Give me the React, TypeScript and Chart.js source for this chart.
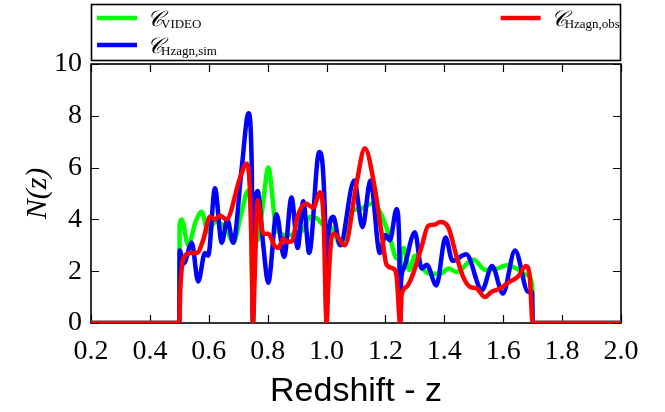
import React, { useEffect, useRef } from 'react';
import { Chart, registerables } from 'chart.js';

Chart.register(...registerables);

const xTicks = [0.2, 0.4, 0.6, 0.8, 1.0, 1.2, 1.4, 1.6, 1.8, 2.0];
const yTicks = [0, 2, 4, 6, 8, 10];

const legendSubs = ['VIDEO', 'Hzagn,sim', 'Hzagn,obs'];
const seriesColors = ['#00ff00', '#0000ff', '#ff0000'];

// C_VIDEO  [z, N(z)]
const videoPts: [number, number][] = [
  [0.2, 0], [0.5, 0], [0.501, 3.8], [0.508, 4.0], [0.53, 3.0], [0.555, 3.9], [0.576, 4.3],
  [0.598, 3.5], [0.62, 3.9], [0.645, 3.8], [0.665, 3.5], [0.683, 3.1], [0.71, 4.2],
  [0.733, 5.1], [0.744, 4.2], [0.75, 0], [0.755, 3.0], [0.766, 3.2], [0.784, 4.6],
  [0.802, 6.0], [0.83, 3.6], [0.86, 3.4], [0.898, 3.45], [0.921, 3.6], [0.944, 4.1],
  [0.966, 4.05], [0.989, 3.8], [0.997, 3.7], [1.0, 0], [1.003, 3.6], [1.012, 3.7],
  [1.05, 3.0], [1.079, 4.3], [1.113, 4.4], [1.153, 4.6], [1.181, 4.3], [1.215, 3.3],
  [1.238, 2.5], [1.248, 2.4], [1.25, 0], [1.252, 2.6], [1.263, 2.9], [1.281, 2.05],
  [1.3, 2.6], [1.323, 2.15], [1.35, 1.9], [1.385, 1.9], [1.415, 2.1], [1.442, 1.97],
  [1.498, 2.45], [1.54, 2.05], [1.58, 2.1], [1.611, 2.23], [1.646, 2.1], [1.68, 1.85],
  [1.698, 1.5], [1.7, 0], [2.0, 0],
];

// C_Hzagn,sim
const simPts: [number, number][] = [
  [0.2, 0], [0.5, 0], [0.501, 2.8], [0.515, 2.3], [0.542, 3.1], [0.564, 1.6], [0.587, 2.7],
  [0.598, 2.6], [0.621, 5.2], [0.644, 3.1], [0.663, 4.0], [0.683, 3.1], [0.712, 6.0],
  [0.735, 8.1], [0.746, 6.0], [0.75, 0], [0.754, 3.6], [0.766, 5.1], [0.785, 3.0],
  [0.802, 1.55], [0.83, 4.2], [0.856, 2.55], [0.881, 4.85], [0.902, 2.9], [0.921, 4.7],
  [0.941, 2.7], [0.975, 6.6], [0.995, 4.0], [1.0, 0], [1.005, 3.2], [1.023, 4.1],
  [1.046, 3.0], [1.094, 5.5], [1.122, 3.7], [1.149, 5.5], [1.181, 2.7], [1.2, 3.4],
  [1.215, 3.2], [1.238, 4.4], [1.247, 3.0], [1.25, 0], [1.253, 1.6], [1.262, 2.1],
  [1.3, 3.5], [1.323, 2.1], [1.34, 2.25], [1.373, 1.45], [1.404, 3.3], [1.428, 2.4],
  [1.474, 2.65], [1.528, 1.27], [1.562, 2.2], [1.599, 1.14], [1.64, 2.8], [1.685, 1.2],
  [1.698, 1.2], [1.7, 0], [2.0, 0],
];

// C_Hzagn,obs
const obsPts: [number, number][] = [
  [0.2, 0], [0.5, 0], [0.503, 1.2], [0.51, 2.3], [0.52, 2.6], [0.536, 2.7], [0.559, 2.7],
  [0.581, 3.2], [0.604, 4.1], [0.62, 4.0], [0.638, 4.15], [0.66, 4.0], [0.706, 5.6],
  [0.728, 6.15], [0.738, 5.5], [0.745, 3.0], [0.75, 0], [0.757, 2.2], [0.766, 4.75],
  [0.785, 3.45], [0.802, 3.45], [0.825, 2.95], [0.837, 2.9], [0.853, 3.26], [0.867, 3.13],
  [0.881, 3.15], [0.904, 4.2], [0.93, 4.6], [0.955, 4.45], [0.978, 5.05], [0.99, 4.0],
  [1.0, 0], [1.006, 1.5], [1.017, 3.3], [1.026, 3.45], [1.062, 3.0], [1.102, 5.4],
  [1.13, 6.75], [1.164, 5.2], [1.187, 3.45], [1.204, 2.25], [1.227, 2.1], [1.238, 1.8],
  [1.25, 0], [1.255, 1.1], [1.272, 1.4], [1.294, 1.9], [1.323, 2.95], [1.345, 3.75],
  [1.368, 3.8], [1.385, 3.9], [1.413, 3.7], [1.442, 2.55], [1.464, 1.78], [1.487, 1.4],
  [1.51, 1.33], [1.538, 1.0], [1.56, 1.2], [1.589, 1.33], [1.623, 1.6], [1.651, 1.8],
  [1.677, 2.2], [1.69, 1.8], [1.7, 0], [2.0, 0],
];

const tickFont = { family: '"Liberation Serif", serif', size: 28 };

const framePlugin = {
  id: 'frameTicks',
  beforeDatasetsDraw(chart: any) {
    const { ctx, chartArea: a, scales } = chart;
    ctx.save();
    ctx.strokeStyle = '#000';
    ctx.lineWidth = 1.2;
    ctx.beginPath();
    scales.x.ticks.forEach((t: any) => {
      const px = Math.round(scales.x.getPixelForValue(t.value)) + 0.5;
      ctx.moveTo(px, a.bottom);
      ctx.lineTo(px, a.bottom - 8);
      ctx.moveTo(px, a.top);
      ctx.lineTo(px, a.top + 8);
    });
    scales.y.ticks.forEach((t: any) => {
      const py = Math.round(scales.y.getPixelForValue(t.value)) + 0.5;
      ctx.moveTo(a.left, py);
      ctx.lineTo(a.left + 8, py);
      ctx.moveTo(a.right, py);
      ctx.lineTo(a.right - 8, py);
    });
    ctx.stroke();
    ctx.lineWidth = 1.6;
    ctx.strokeRect(a.left, a.top, a.right - a.left, a.bottom - a.top);
    ctx.restore();
  },
};

const legendPlugin = {
  id: 'mathLegend',
  afterDraw(chart: any) {
    const { ctx, chartArea: a } = chart;
    const top = 4;
    const bottom = a.top - 4;
    ctx.save();
    ctx.fillStyle = '#fff';
    ctx.fillRect(a.left, top, a.right - a.left, bottom - top);
    ctx.strokeStyle = '#000';
    ctx.lineWidth = 1.6;
    ctx.strokeRect(a.left + 0.5, top + 0.5, a.right - a.left - 1, bottom - top);
    const col2 = a.left + (a.right - a.left) * 0.773;
    const slots = [
      { x: a.left + 6, y: 18 },
      { x: a.left + 6, y: 45 },
      { x: col2, y: 18 },
    ];
    chart.data.datasets.forEach((ds: any, i: number) => {
      const s = slots[i];
      ctx.strokeStyle = ds.borderColor;
      ctx.lineWidth = 4.5;
      ctx.beginPath();
      ctx.moveTo(s.x, s.y);
      ctx.lineTo(s.x + 40, s.y);
      ctx.stroke();
      ctx.fillStyle = '#000';
      ctx.textBaseline = 'alphabetic';
      ctx.font = 'italic 22px "DejaVu Serif", serif';
      ctx.fillText('\u{1D49E}', s.x + 50, s.y + 8);
      const w = ctx.measureText('\u{1D49E}').width;
      ctx.font = '13px "Liberation Serif", serif';
      ctx.fillText(legendSubs[i], s.x + 50 + w - 2, s.y + 10);
    });
    ctx.restore();
  },
};

export default function App() {
  const ref = useRef<HTMLCanvasElement>(null);
  useEffect(() => {
    document.body.style.margin = '0';
    const canvas = ref.current;
    if (!canvas) return;
    const toXY = (pts: [number, number][]) => pts.map(([x, y]) => ({ x, y }));
    const chart = new Chart(canvas, {
      type: 'line',
      data: {
        datasets: [
          { label: 'C_VIDEO', data: toXY(videoPts), borderColor: seriesColors[0], order: 3 },
          { label: 'C_Hzagn,sim', data: toXY(simPts), borderColor: seriesColors[1], order: 2 },
          { label: 'C_Hzagn,obs', data: toXY(obsPts), borderColor: seriesColors[2], order: 1 },
        ].map((d) => ({
          ...d,
          borderWidth: 4.5,
          pointRadius: 0,
          fill: false,
          cubicInterpolationMode: 'monotone' as const,
        })),
      },
      options: {
        animation: false,
        responsive: false,
        devicePixelRatio: 1,
        layout: { padding: { top: 64, right: 44, left: 0, bottom: 0 } },
        plugins: { legend: { display: false }, tooltip: { enabled: false } },
        scales: {
          x: {
            type: 'linear',
            min: 0.2,
            max: 2.0,
            afterBuildTicks: (s: any) => {
              s.ticks = xTicks.map((v) => ({ value: v }));
            },
            afterFit: (s: any) => {
              s.height = 89;
            },
            grid: { display: false, drawTicks: false },
            border: { display: false },
            ticks: {
              padding: 12,
              color: '#000',
              font: tickFont,
              maxRotation: 0,
              autoSkip: false,
              callback: (v: any) => Number(v).toFixed(1),
            },
            title: {
              display: true,
              text: 'Redshift - z',
              color: '#000',
              font: { family: '"Liberation Sans", Arial, sans-serif', size: 34, lineHeight: 1.2 },
              padding: { top: 0, bottom: 0 },
            },
          },
          y: {
            type: 'linear',
            min: 0,
            max: 10,
            afterBuildTicks: (s: any) => {
              s.ticks = yTicks.map((v) => ({ value: v }));
            },
            afterFit: (s: any) => {
              s.width = 91;
            },
            grid: { display: false, drawTicks: false },
            border: { display: false },
            ticks: {
              padding: 9,
              color: '#000',
              font: tickFont,
              callback: (v: any) => String(v),
            },
            title: {
              display: true,
              text: 'N(z)',
              color: '#000',
              font: { family: '"Liberation Serif", serif', size: 30, style: 'italic', lineHeight: 1.2 },
              padding: { top: 20, bottom: 0 },
            },
          },
        },
      },
      plugins: [framePlugin, legendPlugin],
    });
    return () => chart.destroy();
  }, []);
  return (
    <div style={{ width: 665, height: 412 }}>
      <canvas ref={ref} width={665} height={412} />
    </div>
  );
}
